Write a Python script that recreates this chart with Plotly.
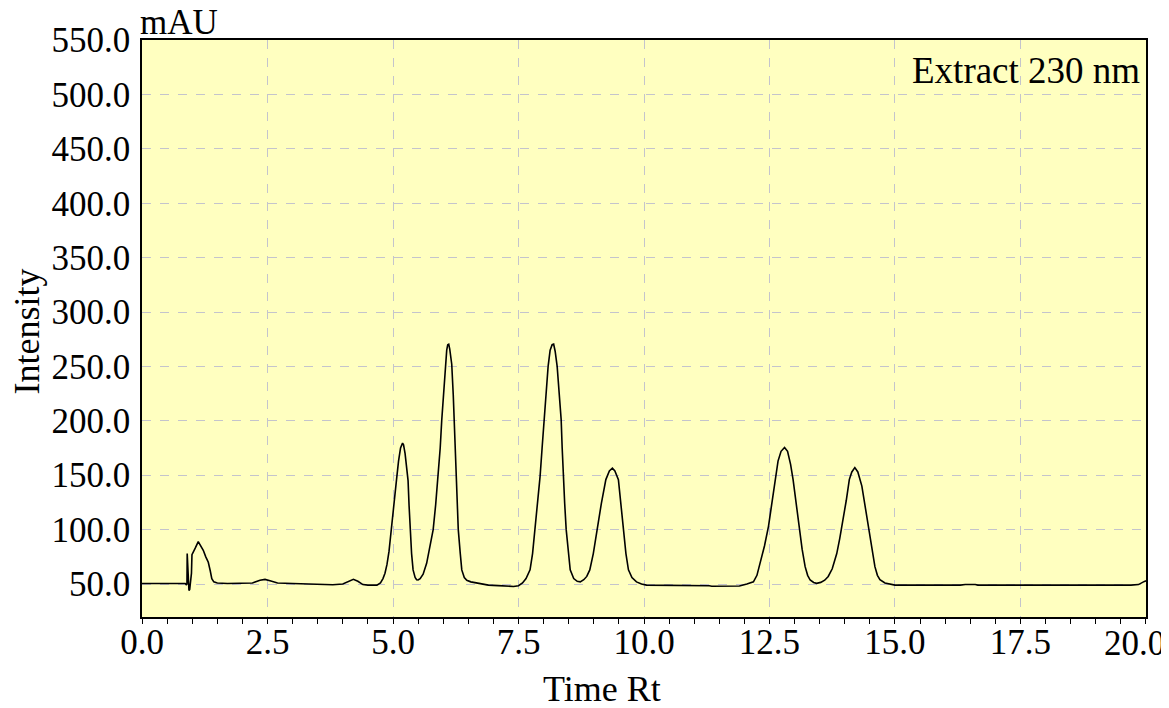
import plotly.graph_objects as go

# Retention time (min) and intensity (mAU)
time_rt = [
    0.00, 0.50, 0.86, 0.88, 0.895, 0.90, 0.91, 0.935, 0.95, 0.985, 0.995, 1.02, 1.06, 1.12,
    1.17, 1.22, 1.27, 1.32, 1.36, 1.39, 1.43, 1.50, 1.70, 2.00, 2.20, 2.35, 2.45, 2.55,
    2.70, 3.00, 3.50, 3.80, 4.00, 4.10, 4.21, 4.30, 4.40, 4.50, 4.60,
    4.68, 4.75, 4.80, 4.84, 4.88, 4.92, 4.97, 5.02, 5.07, 5.11, 5.15, 5.19, 5.21, 5.24,
    5.27, 5.30, 5.32, 5.34, 5.37, 5.40, 5.44, 5.47, 5.50, 5.54, 5.60, 5.67, 5.73, 5.80,
    5.85, 5.90, 5.94, 5.97, 6.01, 6.04, 6.07, 6.09, 6.11, 6.13, 6.17, 6.20, 6.22, 6.25, 6.27,
    6.29, 6.30, 6.34, 6.37, 6.42, 6.47, 6.55, 6.70, 6.90, 7.10, 7.30, 7.40, 7.50, 7.58,
    7.65, 7.73, 7.78, 7.83, 7.88, 7.93, 7.97, 8.01, 8.05, 8.09, 8.13, 8.17, 8.20, 8.23, 8.27,
    8.31, 8.35, 8.37, 8.39, 8.42, 8.45, 8.49, 8.53, 8.60, 8.67, 8.73, 8.80, 8.86, 8.92,
    8.99, 9.06, 9.15, 9.24, 9.31, 9.37, 9.42, 9.49, 9.54, 9.59, 9.64, 9.69, 9.76, 9.85,
    9.95, 10.05, 10.50, 11.00, 11.30, 11.35, 11.50, 11.90, 12.05, 12.18, 12.25, 12.31,
    12.40, 12.48, 12.55, 12.61, 12.67, 12.73, 12.80, 12.86, 12.92, 12.97, 13.03, 13.09,
    13.15, 13.21, 13.26, 13.31, 13.38, 13.44, 13.52, 13.60, 13.67, 13.75, 13.84, 13.90,
    13.97, 14.03, 14.09, 14.14, 14.20, 14.26, 14.34, 14.40, 14.47, 14.54, 14.60, 14.65,
    14.70, 14.80, 14.93, 15.00, 16.30, 16.40, 16.60, 16.65, 19.70, 19.85, 19.95, 20.00,
]
intensity = [
    50.5, 50.5, 50.5, 49.5, 50.0, 78.0, 70.0, 44.0, 45.0, 60.0, 77.0, 79.0, 83.0, 89.0,
    85.0, 81.0, 75.0, 70.0, 62.0, 55.0, 52.0, 51.0, 50.5, 50.5, 51.0, 53.5, 54.3, 53.0,
    51.0, 50.5, 50.0, 49.3, 50.0, 52.0, 54.3, 52.5, 49.5, 49.0, 49.0,
    49.0, 51.0, 55.0, 60.0, 68.0, 80.0, 100.0, 123.0, 146.0, 163.0, 175.0, 179.5, 178.0, 170.0,
    156.0, 145.0, 122.0, 100.0, 78.0, 63.0, 56.0, 54.0, 53.7, 55.0, 59.0, 69.0, 82.0, 100.0,
    123.0, 149.0, 175.0, 200.0, 228.0, 250.0, 265.0, 270.0, 270.5, 266.0, 252.0, 224.0, 200.0, 172.0, 148.0,
    122.0, 100.0, 78.0, 63.0, 56.0, 53.5, 52.0, 50.5, 49.0, 48.5, 47.6, 47.8, 48.5, 51.0,
    55.0, 63.0, 78.0, 100.0, 124.0, 149.0, 175.0, 201.0, 226.0, 250.0, 265.0, 270.0, 270.5, 264.0, 250.0,
    226.0, 201.0, 175.0, 149.0, 124.0, 100.0, 78.0, 63.0, 55.0, 52.5, 52.0, 54.0, 57.0, 63.0,
    78.0, 100.0, 124.0, 146.0, 154.0, 156.5, 154.0, 146.0, 124.0, 100.0, 78.0, 63.0, 56.0, 52.0,
    50.0, 49.0, 49.0, 48.6, 48.4, 48.0, 48.0, 48.2, 50.0, 52.0, 58.0, 69.0,
    85.0, 103.0, 125.0, 146.0, 163.0, 172.0, 175.5, 172.0, 160.0, 146.0, 124.0, 103.0,
    82.0, 66.0, 58.0, 53.7, 51.5, 50.6, 51.5, 53.5, 57.0, 64.0, 78.0, 92.0,
    109.0, 127.0, 146.0, 153.0, 157.0, 153.0, 140.0, 122.0, 103.0, 82.0, 66.0, 58.0,
    54.0, 51.0, 50.0, 49.0, 49.0, 49.6, 49.6, 49.0, 49.0, 49.5, 52.0, 53.0,
]

x_ticks = [0.0, 2.5, 5.0, 7.5, 10.0, 12.5, 15.0, 17.5, 20.0]
y_ticks = [50, 100, 150, 200, 250, 300, 350, 400, 450, 500, 550]

FONT = "Liberation Serif"
FS = 35
FT = 36
GRID = "#C4C4CC"

# the last x label sits at the right edge; it is placed as an annotation pulled
# slightly left so that it stays inside the picture, as in the reference
x_text = [f"{v:.1f}" for v in x_ticks]
last_label = x_text[-1]
x_text[-1] = ""

fig = go.Figure()
fig.add_trace(go.Scatter(
    x=time_rt, y=intensity, mode="lines",
    line=dict(color="black", width=1.6), showlegend=False, hoverinfo="skip",
))

fig.update_layout(
    width=1161, height=700,
    margin=dict(l=134, r=23, t=32, b=91),
    paper_bgcolor="white",
    plot_bgcolor="#FFFFC0",
    font=dict(family=FONT, size=FS, color="black"),
    xaxis=dict(
        range=[-0.0005, 20.0005], tickvals=x_ticks, ticktext=x_text,
        ticks="outside", ticklen=5, tickcolor="black", tickwidth=1,
        minor=dict(dtick=0.5, tick0=0, ticks="outside", ticklen=5, tickcolor="black",
                   showgrid=False),
        showgrid=True, gridcolor=GRID, griddash="dash", gridwidth=1,
        showline=True, linecolor="black", linewidth=1.5, mirror=True,
        zeroline=False, automargin=False, ticklabelstandoff=-12,
        tickfont=dict(family=FONT, size=FS, color="black"),
    ),
    yaxis=dict(
        range=[19.7, 550.05], tickvals=y_ticks, ticktext=[f"{v:.1f}" for v in y_ticks],
        ticks="", showgrid=True, gridcolor=GRID, griddash="dash", gridwidth=1,
        showline=True, linecolor="black", linewidth=1.5, mirror=True,
        zeroline=False, automargin=False, ticklabelstandoff=3,
        tickfont=dict(family=FONT, size=FS, color="black"),
    ),
    annotations=[
        dict(text="mAU", xref="paper", yref="paper", x=0, y=1, xanchor="left",
             yanchor="bottom", xshift=-4, yshift=-4, showarrow=False,
             font=dict(family=FONT, size=FS, color="black")),
        dict(text="Extract 230 nm", xref="paper", yref="paper", x=1, y=1,
             xanchor="right", yanchor="top", xshift=-4, yshift=-8, showarrow=False,
             font=dict(family=FONT, size=37, color="black")),
        dict(text="Time Rt", xref="paper", yref="paper", x=0.458, y=0,
             xanchor="center", yanchor="middle", yshift=-72, showarrow=False,
             font=dict(family=FONT, size=FT, color="black")),
        dict(text="Intensity", xref="paper", yref="paper", x=0, y=0.495,
             xanchor="center", yanchor="middle", xshift=-115, textangle=-90,
             showarrow=False, font=dict(family=FONT, size=FT, color="black")),
        dict(text=last_label, xref="x", yref="paper", x=x_ticks[-1], y=0,
             xanchor="right", yanchor="top", xshift=21, yshift=-5, showarrow=False,
             font=dict(family=FONT, size=FS, color="black")),
    ],
)

fig.write_html("out.html")
